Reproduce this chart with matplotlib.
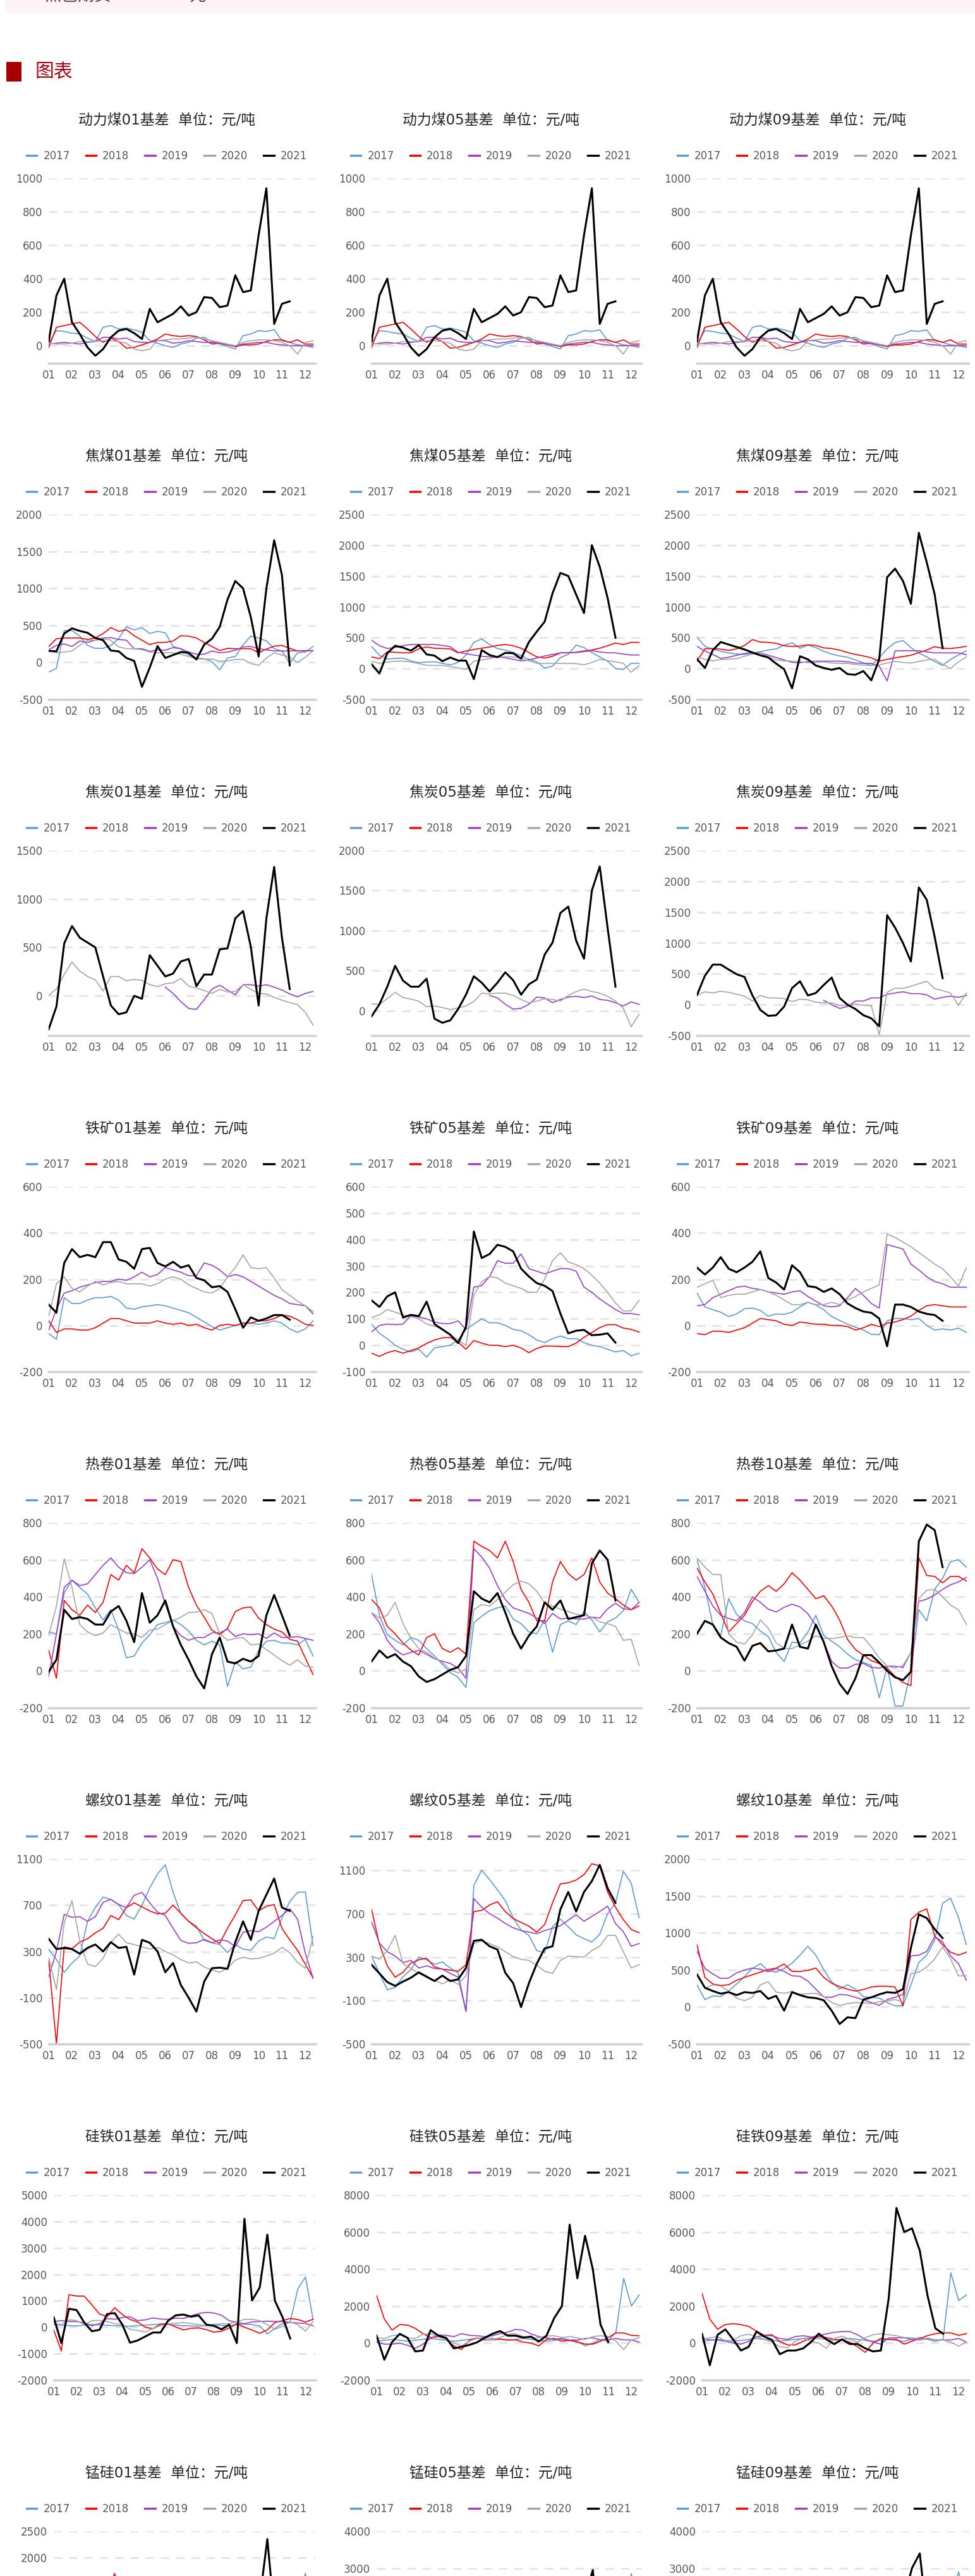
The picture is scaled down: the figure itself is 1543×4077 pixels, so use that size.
import numpy as np
import matplotlib.pyplot as plt
from matplotlib.lines import Line2D
from matplotlib.patches import Rectangle

plt.rcParams['font.family'] = ['DejaVu Sans', 'Noto Sans CJK SC']
plt.rcParams['axes.unicode_minus'] = False

W, H = 1543, 4077

years = ['2017', '2018', '2019', '2020', '2021']
colors = ['#5b9bd5', '#ff0000', '#9b3fc9', '#a5a5a5', '#000000']
months = ['01', '02', '03', '04', '05', '06', '07', '08', '09', '10', '11', '12']

# 基差数据，每 1/3 个月一个点 (元/吨)
# 动力煤 (01/05/09 三张图相同)
dlm_17 = [15, 90, 85, 75, 70, 45, 25, 110, 120, 100, 105, 95, 80, 30, 15, 0, -10, 10, 20, 45, 50, 25, 10, -5, -20, 60, 70, 90, 85, 95, 30, 20, 5, 0, -10]
dlm_18 = [-10, 110, 120, 130, 140, 100, 55, 20, 45, 25, -15, -10, 5, 20, 40, 70, 60, 55, 60, 55, 35, 10, 15, 5, -5, 5, 5, 10, 25, 35, 35, 20, 35, 10, 10]
dlm_19 = [10, 15, 20, 15, 10, 20, 25, 50, 50, 40, 45, 25, 20, 20, 30, 30, 15, 20, 30, 25, 20, 20, 15, 5, 0, 10, 15, 20, 20, 10, 5, 0, 0, 0, 0]
dlm_20 = [15, 10, 10, 15, 25, 25, 25, 30, 30, 25, 15, -20, -30, -20, 30, 35, 40, 40, 45, 50, 40, 30, 20, 10, 0, 20, 30, 35, 35, 30, 20, 0, -50, 20, 30]
dlm_21 = [25, 300, 400, 140, 70, -10, -60, -20, 50, 90, 100, 75, 40, 220, 140, 165, 190, 235, 180, 200, 290, 285, 230, 240, 420, 320, 330, 660, 940, 130, 250, 265]

# 焦煤
jm01_17 = [-130, -80, 430, 430, 355, 230, 190, 190, 230, 320, 480, 440, 470, 390, 420, 400, 215, 185, 100, 60, 50, 10, -100, 60, 80, 240, 355, 330, 290, 185, 155, -15, 130, 140, 215]
jm01_18 = [215, 320, 330, 330, 330, 310, 330, 390, 470, 420, 440, 360, 300, 240, 270, 270, 290, 360, 355, 330, 270, 215, 160, 190, 185, 185, 185, 130, 180, 220, 230, 190, 155, 155, 160]
jm01_19 = [170, 230, 250, 215, 290, 270, 300, 330, 335, 310, 300, 185, 185, 150, 170, 165, 200, 185, 140, 110, 110, 155, 130, 140, 165, 210, 215, 185, 170, 155, 155, 155, 155, 160, 160]
jm01_20 = [160, 130, 140, 155, 230, 300, 300, 320, 300, 210, 185, 185, 170, 140, 130, 130, 130, 110, 80, 50, 45, 45, 15, 20, 40, 40, -15, -40, 60, 130, 100, 70, 0, 70, 155]
jm01_21 = [155, 150, 390, 460, 425, 400, 330, 300, 160, 150, 60, 20, -330, -70, 220, 60, 100, 140, 130, 40, 240, 320, 480, 850, 1100, 1000, 610, 80, 1000, 1650, 1180, -40]

jm05_17 = [360, 215, 155, 165, 170, 125, 95, 105, 110, 85, 60, 100, 220, 425, 480, 390, 325, 300, 260, 210, 150, 110, 10, 40, 180, 230, 380, 340, 260, 190, 120, 0, -15, 85, 85]
jm05_18 = [190, 160, 270, 265, 255, 255, 320, 350, 330, 325, 320, 255, 285, 310, 330, 350, 375, 390, 370, 330, 260, 190, 170, 200, 255, 255, 265, 285, 300, 330, 370, 415, 390, 425, 425]
jm05_19 = [460, 370, 325, 345, 370, 390, 390, 390, 390, 375, 355, 265, 240, 220, 200, 190, 190, 175, 150, 125, 140, 170, 205, 230, 255, 255, 260, 275, 290, 270, 255, 255, 235, 220, 220]
jm05_20 = [120, 85, 105, 120, 120, 105, 80, 55, 50, 50, 35, 10, -15, 120, 140, 160, 190, 190, 190, 165, 125, 85, 85, 85, 85, 85, 80, 60, 100, 150, 130, 110, 85, -60, 50]
jm05_21 = [70, -80, 250, 370, 340, 290, 380, 230, 210, 120, 180, 130, 130, -170, 300, 220, 185, 255, 250, 160, 430, 600, 760, 1220, 1550, 1500, 1200, 900, 2000, 1650, 1145, 500]

jm09_17 = [510, 360, 315, 280, 255, 235, 230, 250, 275, 300, 320, 380, 420, 330, 380, 340, 280, 235, 205, 185, 140, 95, 50, 175, 320, 420, 455, 340, 250, 190, 115, 50, 150, 220, 290]
jm09_18 = [120, 320, 325, 315, 295, 320, 375, 470, 430, 425, 410, 370, 360, 365, 385, 375, 335, 325, 300, 260, 230, 205, 175, 120, 150, 175, 195, 215, 260, 300, 355, 330, 325, 340, 360]
jm09_19 = [360, 285, 230, 165, 185, 215, 245, 255, 255, 215, 180, 140, 100, 95, 115, 120, 120, 120, 120, 110, 90, 85, 85, 40, -200, 285, 290, 290, 290, 270, 255, 255, 255, 255, 225]
jm09_20 = [190, 150, 125, 145, 155, 160, 200, 235, 250, 190, 140, 125, 120, 115, 95, 100, 110, 90, 85, 85, 65, 55, 50, 60, 90, 115, 100, 90, 115, 140, 150, 70, 0, 110, 190]
jm09_21 = [155, 10, 300, 430, 390, 350, 310, 260, 215, 180, 80, -10, -320, 200, 150, 50, 10, -20, 10, -90, -100, -40, -190, 150, 1480, 1620, 1420, 1050, 2200, 1720, 1200, 330]

# 焦炭
jt01_17 = []
jt01_18 = []
jt01_19 = [None, None, None, None, None, None, None, None, None, None, None, None, None, None, None, 90, 25, -60, -130, -140, -40, 70, 110, 60, 10, 115, 115, 100, 115, 90, 60, 20, -10, 25, 45]
jt01_20 = [5, 70, 220, 350, 255, 200, 165, 50, 200, 200, 155, 170, 160, 115, 95, 125, 135, 180, 100, 80, 55, 25, 65, 40, 45, 115, 65, 25, 20, -15, -45, -70, -90, -170, -300]
jt01_21 = [-345, -110, 540, 720, 600, 550, 500, 200, -100, -190, -170, 0, -30, 420, 310, 200, 230, 355, 380, 100, 220, 220, 480, 490, 800, 875, 505, -100, 800, 1330, 600, 70]

jt05_17 = []
jt05_18 = []
jt05_19 = [None, None, None, None, None, None, None, None, None, None, None, None, None, None, None, 190, 160, 80, 20, 30, 80, 170, 160, 100, 140, 170, 180, 165, 185, 140, 130, 100, 60, 110, 80]
jt05_20 = [85, 80, 150, 230, 165, 145, 120, 50, 60, 40, 15, 35, 60, 115, 220, 210, 220, 220, 190, 140, 100, 120, 150, 140, 120, 190, 240, 270, 240, 220, 180, 120, 30, -200, -45]
jt05_21 = [-70, 80, 300, 560, 375, 300, 300, 400, -100, -150, -120, 20, 200, 430, 350, 240, 350, 480, 380, 200, 330, 390, 700, 850, 1220, 1300, 875, 650, 1500, 1800, 1035, 300]

jt09_17 = []
jt09_18 = []
jt09_19 = [None, None, None, None, None, None, None, None, None, None, None, None, None, None, None, None, 70, 0, -60, -30, 60, 60, 110, 110, 170, 190, 210, 180, 180, 160, 90, 120, 140, 120, 150]
jt09_20 = [155, 210, 190, 220, 200, 170, 140, 60, 150, 110, 110, 100, 50, 90, 80, 40, 30, 30, -15, -10, 10, -10, -15, -490, 200, 270, 265, 300, 340, 380, 260, 230, 190, -10, 190]
jt09_21 = [155, 470, 650, 650, 570, 495, 450, 150, -85, -180, -170, -30, 270, 380, 150, 190, 320, 440, 110, 0, -70, -170, -220, -350, 1450, 1250, 1000, 700, 1900, 1700, 1100, 430]

# 铁矿
tk01_17 = [-35, -60, 120, 95, 95, 110, 120, 120, 125, 110, 75, 70, 80, 85, 90, 85, 75, 65, 55, 35, 15, -5, -20, -10, 0, 10, 10, 5, 10, 20, 10, -15, -30, -15, 20]
tk01_18 = [20, -30, -15, -15, -20, -20, -10, 10, 30, 30, 20, 10, 10, 10, 20, 10, 5, 10, 0, 5, -10, -20, 0, 5, 0, 10, 10, 20, 20, 30, 45, 40, 25, 5, 0]
tk01_19 = [-20, 70, 140, 150, 165, 175, 185, 190, 190, 200, 195, 210, 230, 210, 220, 250, 240, 230, 215, 215, 270, 260, 240, 210, 220, 210, 190, 170, 150, 130, 115, 95, 90, 85, 50]
tk01_20 = [40, 180, 210, 160, 145, 170, 190, 175, 185, 190, 180, 180, 180, 170, 180, 200, 210, 200, 175, 160, 145, 140, 160, 210, 250, 305, 250, 245, 250, 205, 155, 130, 105, 85, 60]
tk01_21 = [90, 55, 270, 330, 295, 305, 295, 360, 360, 285, 275, 245, 330, 335, 270, 255, 275, 250, 260, 205, 195, 165, 170, 145, 70, -10, 35, 20, 30, 45, 45, 25]

tk05_17 = [80, 45, 25, 0, -15, -25, -15, -45, -10, -5, 0, 20, 60, 80, 100, 85, 85, 75, 60, 55, 40, 20, 10, 25, 35, 25, 25, 10, 0, -5, -15, -25, -20, -40, -30]
tk05_18 = [-30, -42, -28, -20, -30, -20, -10, 7, 20, 28, 30, 12, -15, 18, 8, 0, 0, -5, 0, -10, -28, -12, -3, -3, -5, -5, 8, 30, 48, 67, 78, 78, 65, 60, 50]
tk05_19 = [50, 75, 80, 78, 80, 112, 107, 100, 88, 82, 82, 92, 60, 220, 225, 260, 320, 310, 310, 345, 290, 280, 270, 280, 290, 290, 280, 220, 200, 175, 155, 135, 120, 120, 115]
tk05_20 = [105, 115, 135, 125, 115, 108, 100, 80, 72, 62, 40, 20, 0, 190, 240, 260, 255, 235, 225, 215, 200, 200, 250, 320, 350, 315, 305, 290, 265, 235, 200, 160, 130, 130, 170]
tk05_21 = [170, 145, 185, 200, 105, 115, 110, 165, 80, 60, 40, 8, 70, 430, 330, 345, 380, 372, 355, 290, 260, 235, 225, 205, 120, 45, 55, 58, 38, 40, 45, 10]

tk09_17 = [140, 80, 68, 57, 38, 50, 72, 75, 65, 40, 50, 48, 57, 80, 100, 88, 68, 38, 22, 5, -8, -20, -38, -40, 20, 30, 30, 25, 30, 0, -20, -15, -20, -12, -30]
tk09_18 = [-35, -40, -25, -25, -30, -20, -10, 10, 30, 25, 20, 5, 0, 15, 10, 5, 5, 0, 0, -5, -20, -10, 5, -5, 10, 15, 25, 40, 65, 85, 90, 85, 80, 80, 80]
tk09_19 = [85, 90, 120, 135, 150, 165, 170, 160, 155, 145, 140, 135, 145, 150, 125, 105, 85, 80, 85, 120, 160, 130, 95, 75, 350, 340, 330, 265, 240, 210, 190, 180, 165, 165, 165]
tk09_20 = [165, 180, 195, 120, 130, 135, 135, 145, 155, 145, 130, 110, 90, 90, 100, 90, 90, 100, 90, 110, 125, 145, 160, 175, 395, 380, 360, 340, 315, 290, 265, 245, 210, 170, 250]
tk09_21 = [250, 220, 250, 295, 245, 230, 250, 275, 320, 205, 185, 155, 260, 230, 170, 165, 145, 160, 135, 95, 75, 60, 55, 30, -90, 90, 90, 80, 60, 50, 45, 20]

# 热卷
rj01_17 = [210, 200, 420, 490, 450, 415, 340, 275, 330, 220, 70, 80, 150, 195, 250, 260, 275, 250, 215, 165, 140, 160, 140, -85, 50, 10, 20, 110, 160, 165, 150, 150, 140, 170, 80]
rj01_18 = [110, -40, 380, 330, 300, 355, 315, 370, 520, 490, 570, 530, 660, 610, 550, 520, 600, 590, 450, 355, 290, 220, 195, 230, 320, 340, 345, 285, 250, 225, 210, 170, 160, 70, -20]
rj01_19 = [-30, 200, 450, 490, 460, 470, 520, 570, 610, 560, 530, 525, 560, 600, 500, 360, 240, 190, 165, 180, 180, 205, 205, 225, 185, 200, 195, 200, 175, 205, 180, 180, 185, 175, 165]
rj01_20 = [190, 350, 605, 450, 250, 210, 190, 205, 250, 225, 205, 200, 180, 220, 225, 250, 270, 290, 315, 318, 330, 310, 200, 165, 175, 180, 140, 145, 115, 85, 55, 30, 60, 25, 20]
rj01_21 = [-5, 60, 330, 280, 290, 280, 250, 250, 320, 350, 270, 155, 420, 260, 300, 380, 240, 140, 60, -30, -95, 90, 180, 50, 40, 65, 50, 80, 300, 410, 300, 190]

rj05_17 = [520, 300, 195, 165, 140, 180, 165, 120, 80, 35, -10, -35, -90, 260, 295, 325, 340, 350, 280, 255, 210, 200, 275, 100, 250, 270, 250, 320, 275, 210, 265, 285, 325, 440, 370]
rj05_18 = [385, 340, 240, 200, 150, 112, 85, 180, 200, 120, 100, 125, 90, 700, 672, 650, 610, 700, 590, 440, 370, 270, 270, 480, 590, 525, 490, 520, 610, 480, 420, 390, 355, 330, 350]
rj05_19 = [315, 260, 165, 115, 85, 100, 110, 90, 65, 52, 40, 15, -40, 660, 615, 555, 460, 385, 340, 325, 310, 285, 255, 310, 280, 285, 280, 280, 290, 285, 335, 365, 335, 330, 370]
rj05_20 = [315, 285, 300, 370, 255, 175, 120, 100, 68, 45, 5, -10, 10, 330, 358, 350, 385, 425, 465, 485, 470, 430, 365, 350, 333, 320, 305, 300, 290, 265, 255, 240, 165, 170, 30]
rj05_21 = [50, 110, 70, 90, 50, 25, -30, -60, -45, -20, 5, 20, 80, 430, 390, 370, 420, 315, 200, 120, 190, 240, 370, 330, 380, 280, 290, 300, 580, 650, 600, 380]

rj10_17 = [600, 450, 250, 190, 390, 305, 270, 255, 215, 185, 100, 50, 155, 150, 210, 300, 190, 160, 130, 90, 60, 45, 30, -145, 20, -190, -190, 5, 330, 270, 440, 500, 590, 600, 560]
rj10_18 = [555, 480, 415, 310, 210, 255, 300, 375, 430, 460, 430, 470, 530, 490, 440, 390, 405, 350, 275, 170, 115, 85, 55, 40, 15, -30, -63, -80, 610, 515, 510, 475, 510, 510, 485]
rj10_19 = [510, 430, 350, 300, 283, 270, 315, 400, 370, 333, 318, 343, 360, 345, 308, 245, 155, 50, 15, 15, 35, 40, 18, 15, 25, 25, 18, 100, 375, 387, 410, 440, 465, 480, 505]
rj10_20 = [610, 560, 520, 520, 200, 155, 145, 195, 275, 230, 150, 122, 120, 140, 160, 190, 175, 175, 180, 190, 180, 180, 130, 70, 25, 15, 28, 100, 390, 435, 440, 400, 355, 330, 250]
rj10_21 = [200, 270, 250, 180, 150, 130, 55, 135, 150, 105, 110, 120, 250, 130, 120, 250, 155, 25, -70, -125, -40, 85, 85, 45, 0, -35, -50, -5, 700, 790, 760, 560]

# 螺纹
lw01_17 = [320, 230, 120, 200, 260, 560, 680, 770, 750, 705, 610, 580, 700, 850, 970, 1050, 810, 630, 560, 520, 395, 375, 360, 290, 360, 320, 310, 390, 425, 410, 590, 730, 810, 815, 350]
lw01_18 = [230, -500, 340, 325, 380, 410, 460, 500, 610, 575, 680, 720, 685, 650, 625, 630, 700, 630, 560, 505, 455, 410, 370, 500, 615, 740, 745, 650, 690, 705, 500, 400, 310, 190, 70]
lw01_19 = [80, 300, 620, 595, 600, 560, 600, 725, 750, 705, 680, 785, 810, 720, 640, 610, 500, 395, 370, 375, 405, 375, 400, 390, 340, 465, 480, 470, 510, 560, 610, 670, 580, 285, 70]
lw01_20 = [250, -30, 545, 740, 390, 190, 170, 240, 380, 450, 375, 360, 340, 320, 335, 300, 270, 230, 200, 210, 165, 140, 120, 155, 225, 250, 235, 240, 260, 285, 335, 290, 205, 155, 430]
lw01_21 = [410, 320, 330, 320, 280, 330, 360, 300, 380, 330, 340, 100, 400, 375, 300, 120, 200, 10, -100, -220, 40, 155, 160, 150, 380, 560, 400, 650, 790, 930, 680, 650]

lw05_17 = [310, 150, 0, 20, 120, 185, 300, 275, 235, 255, 200, 155, -200, 960, 1100, 1015, 920, 820, 660, 550, 500, 360, 340, 580, 650, 580, 505, 470, 440, 510, 700, 800, 1090, 980, 665]
lw05_18 = [740, 420, 220, 115, 160, 245, 275, 290, 210, 190, 180, 170, 230, 720, 730, 780, 810, 720, 655, 620, 585, 530, 600, 800, 975, 985, 1010, 1060, 1160, 1140, 900, 760, 645, 555, 525]
lw05_19 = [625, 430, 350, 310, 250, 270, 200, 220, 195, 190, 150, 115, -200, 840, 760, 700, 660, 610, 570, 545, 530, 515, 545, 565, 590, 640, 690, 630, 675, 720, 770, 610, 535, 400, 425]
lw05_20 = [310, 280, 360, 500, 240, 195, 150, 115, 85, 55, 90, 50, 130, 425, 450, 425, 395, 350, 305, 280, 270, 225, 170, 150, 270, 310, 305, 300, 360, 400, 500, 500, 350, 200, 230]
lw05_21 = [230, 150, 70, 35, 75, 110, 160, 120, 80, 130, 80, 95, 200, 450, 460, 400, 370, 155, 60, -160, 60, 240, 380, 400, 740, 900, 720, 900, 1000, 1150, 935, 800]

lw10_17 = [300, 100, 150, 140, 215, 310, 410, 520, 585, 490, 470, 520, 590, 700, 820, 700, 500, 340, 240, 300, 240, 140, 130, 120, 60, 15, 20, 300, 600, 700, 900, 1400, 1470, 1210, 840]
lw10_18 = [840, 400, 310, 290, 300, 360, 400, 435, 470, 505, 525, 580, 480, 480, 495, 525, 400, 320, 275, 240, 215, 235, 270, 280, 280, 270, 15, 1180, 1280, 1325, 960, 840, 740, 700, 740]
lw10_19 = [755, 520, 445, 385, 390, 460, 500, 525, 510, 475, 520, 480, 420, 415, 350, 240, 135, 130, 170, 160, 130, 95, 60, 20, 100, 130, 170, 690, 700, 750, 950, 880, 690, 585, 360]
lw10_20 = [440, 250, 300, 280, 215, 120, 85, 130, 300, 340, 200, 185, 210, 170, 180, 185, 140, 60, 20, 45, 60, 55, 45, 70, 80, 100, 70, 450, 470, 540, 650, 810, 650, 420, 420]
lw10_21 = [440, 260, 215, 180, 200, 160, 200, 190, 215, 110, 150, -50, 200, 160, 130, 120, 90, -50, -230, -140, -150, 100, 130, 170, 200, 190, 240, 800, 1250, 1200, 1050, 930]

# 硅铁
gt01_17 = [100, 80, 60, 50, 80, 100, 90, 70, 60, 50, 40, 60, 80, 100, 120, 100, 80, 60, 50, 40, 60, 80, 70, 60, 100, 120, 100, 50, -250, -50, 150, 200, 1450, 1900, 300]
gt01_18 = [-105, -900, 1230, 1180, 1175, 850, 500, 400, 735, 480, 295, 200, 0, -60, 120, 130, 10, -105, -40, -25, -90, -185, -150, -30, 130, 0, -105, -230, -100, 180, 250, 330, 290, 200, 300]
gt01_19 = [215, 250, 215, 215, 170, 55, 130, 330, 300, 370, 400, 250, 280, 350, 310, 300, 340, 330, 430, 520, 560, 540, 450, 250, 180, 135, 200, 215, 230, 220, 215, 180, 160, 140, 55]
gt01_20 = [135, 100, 280, 250, 100, 250, 260, 215, 135, 100, -80, -120, -180, -50, 60, 130, 150, 180, 140, 100, 55, 110, 135, 135, 200, 295, 295, 250, 90, -80, 40, 200, 100, -150, 215]
gt01_21 = [375, -600, 700, 650, 180, -150, -100, 500, 535, 100, -585, -500, -350, -200, -200, 250, 450, 480, 400, 450, 100, 55, -80, 100, -600, 4100, 1015, 1500, 3500, 1000, 375, -425]

gt05_17 = [100, 150, 200, 150, 100, 150, 200, 250, 200, 150, 100, 150, 200, 250, 300, 250, 200, 150, 200, 250, 200, 150, 100, 150, 200, 150, 100, -150, 0, 200, 100, 600, 3500, 2000, 2600]
gt05_18 = [2565, 1300, 700, 1000, 970, 800, 510, 300, 350, 200, -150, -350, 150, 285, 170, 170, 220, 170, 170, 55, 0, -150, 200, 250, 100, 150, 55, -55, -55, 100, 300, 550, 550, 420, 400]
gt05_19 = [55, -55, -55, 0, -120, -280, -60, 250, 450, 420, 350, 510, 420, 400, 350, 400, 510, 600, 740, 700, 500, 350, 285, 200, 250, 170, 170, 250, 285, 170, 170, 250, 170, 170, 55]
gt05_20 = [285, 250, 400, 450, 285, 250, 480, 500, 350, 200, 0, -150, 100, 270, 200, 170, 300, 480, 500, 350, 285, 285, 380, 400, 300, 350, 285, 200, 350, 400, 350, 100, -350, 170, 285]
gt05_21 = [400, -900, 55, 500, 285, -450, -400, 700, 400, 285, -285, -200, -100, 40, 285, 500, 650, 400, 400, 300, 350, 80, 400, 1350, 2000, 6400, 3500, 5800, 4000, 1000, 50]

gt09_17 = [100, 150, 200, 150, 100, 150, 200, 250, 200, 150, 100, 150, 200, 250, 300, 250, 200, 150, 200, 250, 200, 150, 100, 150, 200, 150, 100, 200, 300, 200, 100, 200, 3800, 2300, 2600]
gt09_18 = [2680, 1300, 750, 1000, 1050, 1000, 900, 650, 420, 450, 80, -100, -100, 100, 250, 350, 300, 200, 170, 55, -200, -500, 0, 250, 200, 200, -55, 100, 250, 400, 510, 550, 550, 420, 510]
gt09_19 = [285, 170, 170, 100, 0, -55, 100, 350, 400, 400, 250, 200, 350, 400, 330, 400, 500, 580, 625, 625, 450, 200, 60, -55, 285, 285, 285, 200, 170, 250, 170, 170, 170, 250, 55]
gt09_20 = [170, 285, 350, 120, 150, 400, 480, 350, 200, 55, -200, -250, 100, 250, 100, 0, -280, 250, 380, 200, 55, 300, 450, 510, 450, 400, 300, 285, 200, 270, 170, 170, 55, -170, 55]
gt09_21 = [510, -1195, 450, 740, 200, -400, -200, 625, 350, 170, -600, -400, -400, -285, 50, 510, 200, -55, 200, -50, -50, -285, -450, -400, 2400, 7300, 6000, 6200, 5000, 2565, 800, 510]

# 锰硅
ms01_17 = [150, 120, 100, 80, 120, 150, 100, 80, 60, 100, 120, 150, 100, 80, 60, 100, 120, 100, 80, 60, 100, 150, 120, 100, 80, 100, 120, 150, 100, 200, 300, 400, 1300, 1700, 500]
ms01_18 = [400, 800, 1000, 900, 700, 800, 1100, 1400, 1700, 1200, 800, 600, 500, 400, 500, 600, 500, 400, 300, 400, 500, 400, 300, 200, 300, 400, 300, 200, 300, 400, 500, 600, 500, 400, 300]
ms01_19 = [200, 250, 300, 350, 300, 250, 200, 300, 400, 350, 300, 250, 300, 350, 400, 350, 300, 250, 200, 250, 300, 250, 200, 150, 200, 250, 300, 250, 200, 150, 200, 250, 200, 150, 100]
ms01_20 = [300, 250, 200, 300, 400, 350, 300, 200, 100, 0, -100, 0, 100, 200, 300, 250, 200, 150, 100, 150, 200, 250, 300, 350, 400, 500, 600, 500, 400, 300, 200, 100, 0, 100, 200]
ms01_21 = [200, 400, 300, 500, 600, 400, 200, 100, 0, -200, -300, -100, 100, 200, 300, 200, 100, 0, 100, 200, 300, 200, 100, 0, -200, 600, 800, 1200, 2350, 800, 400, 200]

ms05_17 = [200, 150, 100, 150, 200, 250, 200, 150, 100, 150, 200, 150, 100, 50, 100, 150, 200, 150, 100, 150, 200, 250, 200, 150, 100, 150, 200, 250, 300, 350, 400, 600, 2000, 2850, 1500]
ms05_18 = [1800, 1200, 900, 800, 700, 600, 700, 800, 900, 700, 500, 400, 300, 400, 500, 400, 300, 200, 300, 400, 300, 200, 100, 200, 300, 400, 300, 200, 300, 400, 500, 600, 500, 400, 300]
ms05_19 = [100, 150, 200, 250, 300, 250, 200, 250, 300, 350, 300, 250, 200, 250, 300, 250, 200, 150, 200, 250, 200, 150, 100, 150, 200, 250, 200, 150, 100, 150, 200, 150, 100, 150, 100]
ms05_20 = [200, 300, 400, 300, 200, 100, 0, -100, 0, 100, 200, 300, 200, 100, 200, 300, 400, 300, 200, 100, 200, 300, 400, 500, 600, 500, 400, 300, 200, 300, 400, 200, 0, 200, 300]
ms05_21 = [300, -500, 200, 500, 300, 0, -300, 300, 200, 100, -300, -400, -200, 0, 200, 400, 500, 300, 300, 200, 300, 100, 300, 800, 1500, 2600, 1800, 2200, 2950, 900, 300]

ms09_17 = [200, 150, 100, 150, 200, 250, 200, 150, 100, 150, 200, 150, 100, 50, 100, 150, 200, 150, 100, 150, 200, 250, 200, 150, 100, 150, 200, 250, 300, 350, 400, 600, 2200, 2900, 1800]
ms09_18 = [2000, 1300, 900, 800, 700, 600, 700, 800, 700, 500, 300, 200, 100, 200, 300, 400, 300, 200, 100, 0, -100, -200, 0, 200, 300, 200, 100, 200, 300, 400, 500, 600, 500, 400, 500]
ms09_19 = [200, 150, 100, 50, 0, 100, 300, 400, 350, 300, 200, 250, 300, 350, 300, 400, 500, 550, 600, 500, 400, 200, 100, 0, 200, 250, 300, 250, 200, 250, 200, 150, 200, 250, 100]
ms09_20 = [150, 250, 300, 150, 100, 300, 400, 300, 200, 100, -100, -200, 100, 200, 100, 0, -200, 200, 300, 200, 100, 300, 400, 500, 400, 350, 300, 250, 200, 250, 200, 150, 100, -100, 100]
ms09_21 = [400, -800, 400, 600, 200, -300, -200, 500, 300, 150, -500, -300, -300, -200, 50, 400, 200, 0, 200, 0, -50, -200, -300, -300, 1500, 2600, 2200, 3000, 3400, 1500, 600, 400]

panels = [
    ('动力煤01基差  单位：元/吨', [dlm_17, dlm_18, dlm_19, dlm_20, dlm_21], (-105, 1000), [0, 200, 400, 600, 800, 1000]),
    ('动力煤05基差  单位：元/吨', [dlm_17, dlm_18, dlm_19, dlm_20, dlm_21], (-105, 1000), [0, 200, 400, 600, 800, 1000]),
    ('动力煤09基差  单位：元/吨', [dlm_17, dlm_18, dlm_19, dlm_20, dlm_21], (-105, 1000), [0, 200, 400, 600, 800, 1000]),
    ('焦煤01基差  单位：元/吨', [jm01_17, jm01_18, jm01_19, jm01_20, jm01_21], (-500, 2000), [-500, 0, 500, 1000, 1500, 2000]),
    ('焦煤05基差  单位：元/吨', [jm05_17, jm05_18, jm05_19, jm05_20, jm05_21], (-500, 2500), [-500, 0, 500, 1000, 1500, 2000, 2500]),
    ('焦煤09基差  单位：元/吨', [jm09_17, jm09_18, jm09_19, jm09_20, jm09_21], (-500, 2500), [-500, 0, 500, 1000, 1500, 2000, 2500]),
    ('焦炭01基差  单位：元/吨', [jt01_17, jt01_18, jt01_19, jt01_20, jt01_21], (-410, 1500), [0, 500, 1000, 1500]),
    ('焦炭05基差  单位：元/吨', [jt05_17, jt05_18, jt05_19, jt05_20, jt05_21], (-310, 2000), [0, 500, 1000, 1500, 2000]),
    ('焦炭09基差  单位：元/吨', [jt09_17, jt09_18, jt09_19, jt09_20, jt09_21], (-500, 2500), [-500, 0, 500, 1000, 1500, 2000, 2500]),
    ('铁矿01基差  单位：元/吨', [tk01_17, tk01_18, tk01_19, tk01_20, tk01_21], (-200, 600), [-200, 0, 200, 400, 600]),
    ('铁矿05基差  单位：元/吨', [tk05_17, tk05_18, tk05_19, tk05_20, tk05_21], (-100, 600), [-100, 0, 100, 200, 300, 400, 500, 600]),
    ('铁矿09基差  单位：元/吨', [tk09_17, tk09_18, tk09_19, tk09_20, tk09_21], (-200, 600), [-200, 0, 200, 400, 600]),
    ('热卷01基差  单位：元/吨', [rj01_17, rj01_18, rj01_19, rj01_20, rj01_21], (-200, 800), [-200, 0, 200, 400, 600, 800]),
    ('热卷05基差  单位：元/吨', [rj05_17, rj05_18, rj05_19, rj05_20, rj05_21], (-200, 800), [-200, 0, 200, 400, 600, 800]),
    ('热卷10基差  单位：元/吨', [rj10_17, rj10_18, rj10_19, rj10_20, rj10_21], (-200, 800), [-200, 0, 200, 400, 600, 800]),
    ('螺纹01基差  单位：元/吨', [lw01_17, lw01_18, lw01_19, lw01_20, lw01_21], (-500, 1100), [-500, -100, 300, 700, 1100]),
    ('螺纹05基差  单位：元/吨', [lw05_17, lw05_18, lw05_19, lw05_20, lw05_21], (-500, 1205), [-500, -100, 300, 700, 1100]),
    ('螺纹10基差  单位：元/吨', [lw10_17, lw10_18, lw10_19, lw10_20, lw10_21], (-500, 2000), [-500, 0, 500, 1000, 1500, 2000]),
    ('硅铁01基差  单位：元/吨', [gt01_17, gt01_18, gt01_19, gt01_20, gt01_21], (-2000, 5000), [-2000, -1000, 0, 1000, 2000, 3000, 4000, 5000]),
    ('硅铁05基差  单位：元/吨', [gt05_17, gt05_18, gt05_19, gt05_20, gt05_21], (-2000, 8000), [-2000, 0, 2000, 4000, 6000, 8000]),
    ('硅铁09基差  单位：元/吨', [gt09_17, gt09_18, gt09_19, gt09_20, gt09_21], (-2000, 8000), [-2000, 0, 2000, 4000, 6000, 8000]),
    ('锰硅01基差  单位：元/吨', [ms01_17, ms01_18, ms01_19, ms01_20, ms01_21], (-1000, 2500), [-1000, -500, 0, 500, 1000, 1500, 2000, 2500]),
    ('锰硅05基差  单位：元/吨', [ms05_17, ms05_18, ms05_19, ms05_20, ms05_21], (-1000, 4000), [-1000, 0, 1000, 2000, 3000, 4000]),
    ('锰硅09基差  单位：元/吨', [ms09_17, ms09_18, ms09_19, ms09_20, ms09_21], (-1000, 4000), [-1000, 0, 1000, 2000, 3000, 4000]),
]

fig = plt.figure(figsize=(W / 100, H / 100), dpi=100)

# 顶部残留的表格行
fig.add_artist(Rectangle((8 / W, 1 - 20 / H), 1 - 8 / W, 20 / H, transform=fig.transFigure,
                         facecolor='#fdf5f5', edgecolor='none', zorder=0))
for tx, s in [(71, '黑色期货'), (300, '元'), (433, '23'), (571, '11%')]:
    fig.text(tx / W, 1 + 7 / H, s, fontsize=19, color='#5a4545', va='center', ha='left',
             family=['Noto Sans CJK SC', 'DejaVu Sans'])

# 小节标题
fig.add_artist(Rectangle((10 / W, 1 - 129 / H), 24 / W, 31 / H, transform=fig.transFigure,
                         facecolor='#a80000', edgecolor='none'))
fig.text(55 / W, 1 - 114 / H, '图表', fontsize=21.5, color='#b0000e', va='center', ha='left',
         family=['Noto Sans CJK SC'])

col_left = [77, 588, 1103]
col_right = [499, 1015, 1533]
col_center = [264, 777, 1294]
step = 532
plot_h = 293

for k, (title, series, ylim, yticks) in enumerate(panels):
    r, c = divmod(k, 3)
    off = step * r
    left = col_left[c] + (8 if r >= 6 else 0)
    top = 282 + off
    ax = fig.add_axes([left / W, 1 - (top + plot_h) / H, (col_right[c] - left) / W, plot_h / H])
    for vals, col, yr in zip(series, colors, years):
        y = np.array(vals, dtype=float)
        x = np.arange(len(y)) / 3
        ax.plot(x, y, color=col, lw=2.2 if yr == '2021' else 1.2, label=yr)
    ax.set_xlim(0, 11.43)
    ax.set_ylim(*ylim)
    ax.set_yticks(yticks)
    # 只给落在画面内的刻度写标签（最后一行图被截断）
    ylabels = []
    for t in yticks:
        ypx = top + (ylim[1] - t) / (ylim[1] - ylim[0]) * plot_h
        ylabels.append(str(t) if ypx < H - 8 else '')
    ax.set_yticklabels(ylabels)
    ax.set_xticks(range(12))
    ax.set_xticklabels(months if top + plot_h + 30 < H else [''] * 12)
    ax.tick_params(length=0, labelsize=12, labelcolor='#595959', pad=7)
    for s in ['top', 'right', 'left']:
        ax.spines[s].set_visible(False)
    ax.spines['bottom'].set_color('#d0d0d0')
    ax.spines['bottom'].set_linewidth(2.5)
    ax.yaxis.grid(True, color='#e6e6e6', lw=2.2, linestyle=(0, (4.3, 3.6)))
    ax.set_axisbelow(True)

    fig.text(col_center[c] / W, 1 - (190 + off) / H, title, fontsize=16.5, color='#262626',
             ha='center', va='center')
    handles = [Line2D([], [], color=cl, lw=2.4) for cl in colors]
    ax.legend(handles, years, loc='center', bbox_to_anchor=(col_center[c] / W, 1 - (247 + off) / H),
              bbox_transform=fig.transFigure, ncol=5, frameon=False, fontsize=12,
              handlelength=1.0, handletextpad=0.6, columnspacing=1.5, borderpad=0,
              labelcolor='#595959')

fig.savefig('out.png', dpi=100)
